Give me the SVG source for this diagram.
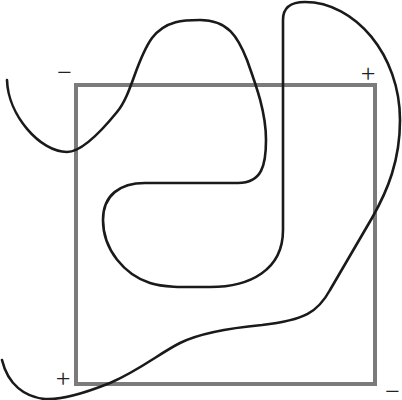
<svg xmlns="http://www.w3.org/2000/svg" width="402" height="400" viewBox="0 0 402 400">
<style>
.box{fill:none;stroke:#7b7b7b;stroke-width:4}
.curve{fill:none;stroke:#1a1a1a;stroke-width:2.6;stroke-linecap:round;stroke-linejoin:round}
.sign{font-family:"Liberation Serif",serif;font-size:26px;fill:#222;text-anchor:middle}
</style>
<rect width="402" height="400" fill="#fff"/>
<g id="square"><rect class="box" x="76" y="85" width="299" height="299"/></g>
<g id="connectors">
<path class="curve" d="M7,80 C8,115 40,152 67,152 C82,152 104,128 117,112 C132,94 136,60 152,38 C166,20 185,20 200,20 C228,20 238,37 247,60 C256,85 266,112 266,140 C266,165 262,183 238,183 L145,183 C120,183 103,195 103,220 C103,250 125,275 150,283 C165,288 190,287 210,287 C250,287 283,270 283,230 L283,20 C283,8 290,2 305,2 C355,2 400,55 400,120 C400,160 388,190 372,218 L330,290 C318,312 305,320 262,325 C230,328 200,333 180,343 C160,353 140,370 110,383 C80,395 60,400 45,399 C25,397 8,385 2,360"/>
</g>
<g id="labels">
<text class="sign" x="64.5" y="80.6">−</text>
<text class="sign" x="368" y="81.6">+</text>
<text class="sign" x="63" y="386.6">+</text>
<text class="sign" x="392.5" y="399.5">−</text>
</g>
</svg>
